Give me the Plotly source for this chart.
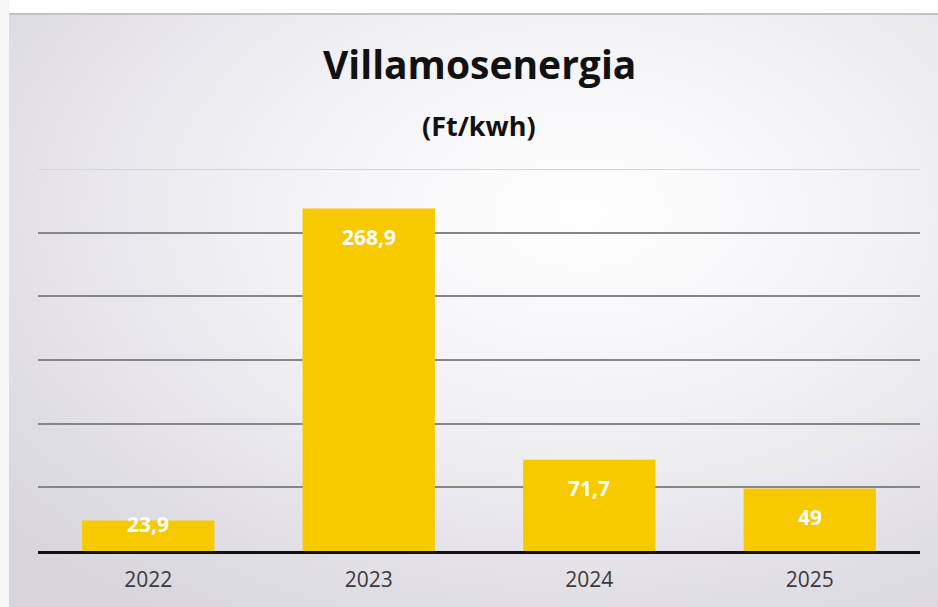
import base64
import plotly.graph_objects as go

years = ["2022", "2023", "2024", "2025"]
values = [23.9, 268.9, 71.7, 49]
labels = ["23,9", "268,9", "71,7", "49"]

title_text = "Villamosenergia"
subtitle_text = "(Ft/kwh)"

BAR = "#F7CA00"
FONT = "'Open Sans', Lato, sans-serif"

svg = (
    '<svg xmlns="http://www.w3.org/2000/svg" width="938" height="607">'
    '<defs><radialGradient id="g" cx="0.62" cy="0.35" r="0.8">'
    '<stop offset="0" stop-color="#ffffff"/>'
    '<stop offset="0.45" stop-color="#f1f0f4"/>'
    '<stop offset="1" stop-color="#d8d5dd"/>'
    '</radialGradient></defs>'
    '<rect width="938" height="607" fill="url(#g)"/>'
    '<rect x="0" y="0" width="938" height="13" fill="#ffffff"/>'
    '<rect x="0" y="0" width="9" height="607" fill="#f6f6f8"/>'
    '<line x1="9" y1="14" x2="938" y2="14" stroke="#c4c2c8" stroke-width="2"/>'
    '</svg>'
)
bg_uri = "data:image/svg+xml;base64," + base64.b64encode(svg.encode()).decode()

L, R, T, B = 38, 18, 169, 56
PW, PH = 938 - L - R, 607 - T - B

fig = go.Figure()
fig.add_trace(go.Bar(
    x=years, y=values, marker=dict(color=BAR, line=dict(width=0)),
    hoverinfo="skip",
))

for i, (v, lab) in enumerate(zip(values, labels)):
    px_h = v * PH / 300
    shift = -28 if px_h > 50 else -3
    fig.add_annotation(x=i, y=v, text=f"<b>{lab}</b>", showarrow=False,
                       yanchor="middle", yshift=shift,
                       font=dict(family=FONT, size=21, color="#ffffff"))

fig.add_annotation(xref="paper", yref="paper", x=0.5, y=1, yshift=169 - 63,
                   xanchor="center", yanchor="middle", showarrow=False,
                   text=f"<b>{title_text}</b>",
                   font=dict(family=FONT, size=39, color="#111111"))
fig.add_annotation(xref="paper", yref="paper", x=0.5, y=1, yshift=169 - 125,
                   xanchor="center", yanchor="middle", showarrow=False,
                   text=f"<b>{subtitle_text}</b>",
                   font=dict(family=FONT, size=27, color="#111111"))

# faint top gridline
fig.add_shape(type="line", xref="paper", yref="y", x0=0, x1=1, y0=300, y1=300,
              line=dict(color="#d6d5da", width=2), layer="below")

fig.update_layout(
    width=938, height=607,
    margin=dict(l=L, r=R, t=T, b=B),
    paper_bgcolor="#e4e2e8",
    plot_bgcolor="rgba(0,0,0,0)",
    bargap=0.4,
    showlegend=False,
    images=[dict(source=bg_uri, xref="paper", yref="paper",
                 x=-L / PW, y=1 + T / PH, sizex=938 / PW, sizey=607 / PH,
                 xanchor="left", yanchor="top", sizing="stretch", layer="below")],
    xaxis=dict(type="category", range=[-0.5, len(years) - 0.5],
               showgrid=False, showline=True,
               linecolor="#111111", linewidth=3, ticks="",
               ticklabelstandoff=8,
               tickfont=dict(family=FONT, size=21, color="#3a3a3a"),
               fixedrange=True),
    yaxis=dict(range=[0, 300], dtick=50, showgrid=True, gridcolor="#86858a",
               gridwidth=2, showticklabels=False, zeroline=False, showline=False,
               fixedrange=True),
)

fig.write_html("out.html",
               config={"displayModeBar": False},
               post_script="document.body.style.margin='0';document.body.style.padding='0';")
